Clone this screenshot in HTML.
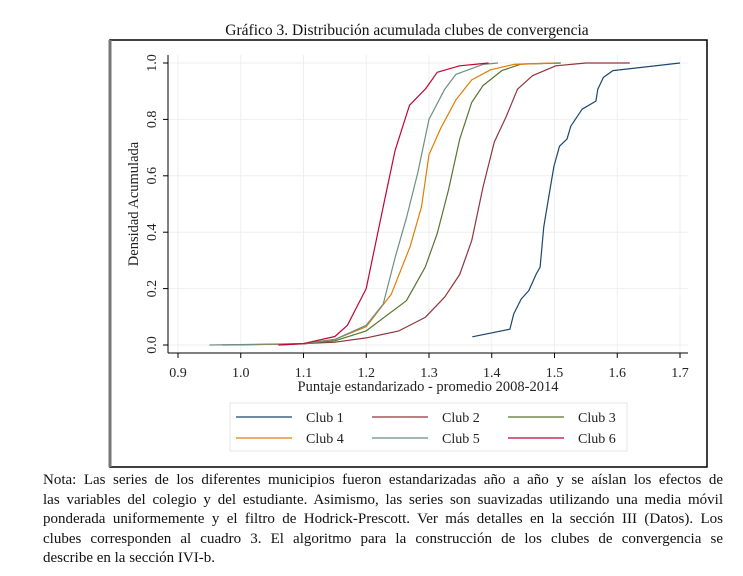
<!DOCTYPE html>
<html><head><meta charset="utf-8"><style>
body{margin:0;background:#fff;width:743px;height:576px;overflow:hidden;font-family:"Liberation Serif",serif}
#note{position:absolute;left:43px;top:471px;width:680px;font-size:15px;line-height:19.6px;color:#111;white-space:nowrap}
#note div{text-align:justify;text-align-last:justify}
#note div.last{text-align-last:left}
</style></head><body>
<svg width="743" height="470" style="position:absolute;left:0;top:0" font-family="Liberation Serif, serif">
<rect x="110" y="40" width="597" height="427" fill="none" stroke="#000" stroke-width="1.5"/>
<line x1="110" y1="40" x2="110" y2="467" stroke="#777" stroke-width="3"/>
<text x="407" y="35" text-anchor="middle" font-size="15.5" fill="#111">Gráfico 3. Distribución acumulada clubes de convergencia</text>
<g id="grid"></g><g id="axes"></g><g id="series"></g><g id="legend"></g>
</svg>
<div id="note">
<div>Nota: Las series de los diferentes municipios fueron estandarizadas año a año y se aíslan los efectos de</div>
<div>las variables del colegio y del estudiante. Asimismo, las series son suavizadas utilizando una media móvil</div>
<div>ponderada uniformemente y el filtro de Hodrick-Prescott. Ver más detalles en la sección III (Datos). Los</div>
<div>clubes corresponden al cuadro 3. El algoritmo para la construcción de los clubes de convergencia se</div>
<div class="last">describe en la sección IVI-b.</div>
</div>
<script>
const xTicks=[0.9,1.0,1.1,1.2,1.3,1.4,1.5,1.6,1.7];
const yTicks=[0,0.2,0.4,0.6,0.8,1.0];
const seriesNames=["Club 1","Club 2","Club 3","Club 4","Club 5","Club 6"];
const seriesColors=["#1a476f","#90353b","#55752f","#e37e00","#6e8e84","#c10534"];
const club1X=[1.369,1.429,1.435,1.447,1.459,1.471,1.477,1.483,1.49,1.499,1.508,1.52,1.526,1.544,1.566,1.569,1.578,1.593,1.7];
const club1Y=[0.029,0.056,0.11,0.163,0.193,0.252,0.276,0.42,0.514,0.633,0.705,0.73,0.776,0.836,0.865,0.907,0.949,0.973,1.0];
const club2X=[1.06,1.1,1.15,1.2,1.252,1.294,1.325,1.349,1.368,1.386,1.404,1.423,1.441,1.465,1.502,1.55,1.62];
const club2Y=[0,0.005,0.01,0.025,0.05,0.098,0.17,0.25,0.37,0.56,0.72,0.81,0.907,0.955,0.99,1.0,1.0];
const club3X=[0.97,1.1,1.15,1.2,1.264,1.294,1.313,1.331,1.349,1.368,1.386,1.416,1.447,1.51];
const club3Y=[0,0.004,0.015,0.05,0.157,0.276,0.395,0.55,0.73,0.86,0.92,0.973,0.996,1.0];
const club4X=[1.0,1.1,1.15,1.2,1.24,1.27,1.288,1.30,1.319,1.343,1.368,1.398,1.435,1.5];
const club4Y=[0,0.005,0.02,0.065,0.18,0.35,0.49,0.675,0.77,0.87,0.94,0.976,0.995,1.0];
const club5X=[0.95,1.1,1.15,1.2,1.227,1.246,1.264,1.282,1.30,1.325,1.343,1.386,1.41];
const club5Y=[0,0.005,0.02,0.07,0.145,0.31,0.45,0.61,0.8,0.907,0.96,0.995,1.0];
const club6X=[1.06,1.1,1.15,1.17,1.2,1.227,1.246,1.269,1.295,1.313,1.349,1.395];
const club6Y=[0,0.005,0.03,0.07,0.2,0.49,0.69,0.85,0.91,0.967,0.99,1.0];
const allX=[club1X,club2X,club3X,club4X,club5X,club6X];
const allY=[club1Y,club2Y,club3Y,club4Y,club5Y,club6Y];

const NS="http://www.w3.org/2000/svg";
const X0=178,X1=680,Y0=345,Y1=63;
const sx=v=>X0+(v-0.9)/(0.8)*(X1-X0);
const sy=v=>Y0-v*(Y0-Y1);
function mk(tag,attrs,parent){const e=document.createElementNS(NS,tag);for(const k in attrs)e.setAttribute(k,attrs[k]);parent.appendChild(e);return e;}
const grid=document.getElementById('grid'),axes=document.getElementById('axes'),ser=document.getElementById('series'),leg=document.getElementById('legend');
xTicks.forEach(t=>{const l=mk('line',{x1:sx(t),x2:sx(t),y1:55,y2:353,stroke:'#eef0f0','stroke-width':1},grid);


const tk=mk('line',{x1:sx(t),x2:sx(t),y1:353,y2:358,stroke:'#000'},axes);


const tx=mk('text',{x:sx(t),y:377,'text-anchor':'middle','font-size':14,fill:'#222'},axes);tx.textContent=t.toFixed(1);

});
yTicks.forEach(t=>{const l=mk('line',{x1:168,x2:688,y1:sy(t),y2:sy(t),stroke:'#eef0f0','stroke-width':1},grid);


const tk=mk('line',{x1:163,x2:168,y1:sy(t),y2:sy(t),stroke:'#000'},axes);


const tx=mk('text',{x:0,y:0,'text-anchor':'middle','font-size':14,fill:'#222',transform:`translate(156,${sy(t)}) rotate(-90)`},axes);tx.textContent=t.toFixed(1);

});
let a=mk('line',{x1:168,x2:688,y1:353,y2:353,stroke:'#000'},axes);


a=mk('line',{x1:168,x2:168,y1:55,y2:353,stroke:'#000'},axes);


let t=mk('text',{x:428,y:391,'text-anchor':'middle','font-size':14.5,fill:'#222'},axes);t.textContent='Puntaje estandarizado - promedio 2008-2014';


t=mk('text',{x:0,y:0,'text-anchor':'middle','font-size':14.5,fill:'#222',transform:'translate(138,204) rotate(-90)'},axes);t.textContent='Densidad Acumulada';


allX.forEach((xs,i)=>{const d=xs.map((x,j)=>(j?'L':'M')+sx(x).toFixed(1)+','+sy(allY[i][j]).toFixed(1)).join(' ');
const p=mk('path',{d:d,fill:'none',stroke:seriesColors[i],'stroke-width':1.2,'stroke-linejoin':'round'},ser);

});
const lb=mk('rect',{x:230,y:403,width:397,height:48,fill:'#fff',stroke:'#e6e8e8'},leg);


seriesNames.forEach((n,i)=>{const c=i%3,r=Math.floor(i/3);const x=236+c*136,y=418+r*21;
const l=mk('line',{x1:x,x2:x+56,y1:y-1,y2:y-1,stroke:seriesColors[i],'stroke-width':1.2},leg);


const tx=mk('text',{x:x+70,y:y+4,'font-size':14,fill:'#222'},leg);tx.textContent=n;

});
</script>
</body></html>
